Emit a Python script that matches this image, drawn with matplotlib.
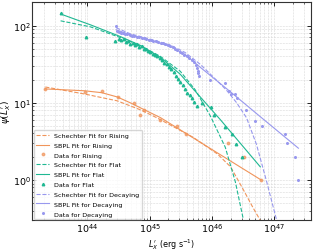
import numpy as np
import matplotlib
matplotlib.use('Agg')
from matplotlib import pyplot as plt

# colours per class
c_rise = '#f0945a'
c_flat = '#1fb892'
c_dec = '#9898ee'

# ---- data ----
rise_L = [2.1e43, 9.0e43, 1.7e44, 3.1e44, 5.7e44, 7.0e44, 8.0e44, 1.45e45, 2.7e45, 3.9e45, 1.8e46, 3.3e46, 6.2e46]
rise_psi = [15.1, 13.7, 14.1, 11.9, 10.0, 7.0, 8.0, 5.9, 5.0, 3.9, 3.0, 2.0, 1.0]

flat_L = [3.7e43, 9.6e43, 2.8e44,
          3.2e44, 3.5e44, 3.8e44, 4.1e44, 4.5e44, 4.9e44, 5.3e44, 5.8e44, 6.3e44, 6.8e44,
          7.4e44, 8.0e44, 8.7e44, 9.5e44, 1.03e45, 1.12e45, 1.22e45, 1.33e45, 1.45e45, 1.58e45,
          1.72e45, 1.87e45, 2.04e45, 2.22e45, 2.42e45, 2.64e45, 2.87e45, 3.13e45, 3.41e45, 3.72e45,
          4.05e45, 4.41e45, 4.80e45, 5.23e45, 5.70e45,
          6.9e45, 9.8e45, 1.1e46, 1.64e46, 2.14e46, 2.45e46, 3.0e46]
flat_psi = [145, 72, 62.5,
            67, 64, 66, 61, 63, 58, 60, 56, 57, 52,
            54, 50, 49, 47, 46, 43, 42, 40, 38, 36,
            33, 32, 29, 27.5, 25, 22, 20.5, 18.5, 17, 15,
            13.5, 12.5, 11.5, 10.3, 9.2,
            10.0, 8.8, 6.9, 4.9, 3.9, 2.95, 1.96]

dec_L = [2.9e44,
         3.0e44, 3.2e44, 3.4e44, 3.7e44, 4.0e44, 4.4e44, 4.8e44, 5.2e44, 5.7e44, 6.2e44,
         6.8e44, 7.4e44, 8.1e44, 8.8e44, 9.6e44, 1.05e45, 1.15e45, 1.25e45, 1.37e45, 1.50e45,
         1.64e45, 1.79e45, 1.95e45, 2.13e45, 2.33e45, 2.54e45, 2.78e45, 3.03e45, 3.31e45, 3.62e45,
         3.95e45, 4.32e45, 4.72e45, 5.15e45, 5.50e45, 5.75e45, 5.90e45, 6.00e45, 6.10e45,
         9.4e45, 1.64e46, 1.86e46, 2.0e46, 2.37e46, 2.5e46, 3.6e46, 5.0e46, 6.3e46,
         1.5e47, 1.6e47, 2.2e47, 2.46e47]
dec_psi = [100,
           85, 83, 81, 80, 78, 77, 76, 74, 73, 72,
           70, 69.5, 68, 67, 65, 64, 63, 62.5, 61, 60,
           58.5, 57, 55.6, 54, 52, 50, 48, 46, 44, 42,
           40, 38, 36, 34, 31, 28, 26, 24, 22,
           19.9, 18.0, 14.1, 13.0, 12.8, 11.6, 8.0, 5.8, 5.0,
           3.9, 3.0, 2.0, 1.0]

# ---- fitted curves, sampled from the figure ----
rise_sch_L = [2.1e43, 8.9e43, 3.0e44, 7.1e44, 1.3e45, 5.0e45, 1.23e46, 2.0e46, 3.2e46, 4.5e46, 6.0e46]
rise_sch_psi = [16.0, 13.0, 10.6, 8.1, 6.4, 3.57, 2.17, 1.48, 0.75, 0.45, 0.30]
rise_sbpl_L = [2.1e43, 8.9e43, 1.7e44, 3.0e44, 5.0e44, 7.1e44, 1.5e45, 6.2e46]
rise_sbpl_psi = [15.1, 14.3, 13.5, 11.9, 9.9, 8.6, 6.4, 1.0]

flat_sch_L = [3.7e43, 1.12e44, 3.4e44, 7.1e44, 1.49e45, 3.1e45, 5.4e45, 9.4e45, 1.64e46, 2.38e46, 3.2e46]
flat_sch_psi = [115, 96, 69.7, 55, 39.8, 25.6, 14.7, 6.8, 2.66, 0.95, 0.31]
flat_sbpl_L = [3.7e43, 1.12e44, 3.4e44, 7.1e44, 1.49e45, 3.1e45, 6.5e45, 1.36e46, 6.0e46]
flat_sbpl_psi = [141, 102, 71.8, 55.1, 38.7, 23.4, 11.9, 6.07, 1.48]

dec_sch_L = [2.9e44, 4.9e44, 1.02e45, 2.15e45, 3.7e45, 6.5e45, 1.1e46, 1.7e46, 2.5e46, 3.6e46, 5.2e46, 7.6e46, 1.1e47]
dec_sch_psi = [93.5, 78, 66.7, 55.8, 44.8, 31.5, 20.8, 14.7, 10.0, 6.4, 2.9, 0.95, 0.30]
dec_sbpl_L = [2.9e44, 4.9e44, 1.02e45, 2.15e45, 3.7e45, 6.5e45, 2.0e46, 6.0e46, 2.46e47]
dec_sbpl_psi = [88, 76, 64.7, 53.5, 42.3, 28.8, 13.8, 6.6, 2.58]

fig = plt.figure(figsize=(3.14, 2.51), dpi=100)
ax = fig.add_axes([0.103, 0.118, 0.887, 0.869])

lw = 0.8
ms = 1.8
ax.plot(rise_sch_L, rise_sch_psi, '--', color=c_rise, lw=lw, label='Schechter Fit for Rising')
ax.plot(rise_sbpl_L, rise_sbpl_psi, '-', color=c_rise, lw=lw, label='SBPL Fit for Rising')
ax.plot(rise_L, rise_psi, 'o', color=c_rise, ms=ms, alpha=0.7, ls='none', label='Data for Rising')
ax.plot(flat_sch_L, flat_sch_psi, '--', color=c_flat, lw=lw, label='Schechter Fit for Flat')
ax.plot(flat_sbpl_L, flat_sbpl_psi, '-', color=c_flat, lw=lw, label='SBPL Fit for Flat')
ax.plot(flat_L, flat_psi, '^', color=c_flat, ms=ms, ls='none', label='Data for Flat')
ax.plot(dec_sch_L, dec_sch_psi, '--', color=c_dec, lw=lw, label='Schechter Fit for Decaying')
ax.plot(dec_sbpl_L, dec_sbpl_psi, '-', color=c_dec, lw=lw, label='SBPL Fit for Decaying')
ax.plot(dec_L, dec_psi, '.', color=c_dec, ms=ms + 0.6, ls='none', label='Data for Decaying')

ax.set_xscale('log')
ax.set_yscale('log')
ax.set_xlim(1.3e43, 3.9e47)
ax.set_ylim(0.30, 200)

ax.grid(True, which='both', ls='--', lw=0.4, color='0.85')
ax.tick_params(which='both', direction='in', top=True, right=True, labelsize=6.8, pad=1.0)
ax.tick_params(which='major', length=3, width=0.6)
ax.tick_params(which='minor', length=1.5, width=0.4)
for s in ax.spines.values():
    s.set_linewidth(0.8)
    s.set_color('0.2')

ax.set_xlabel(r"$L_X^{\prime}$ (erg s$^{-1}$)", fontsize=5.8)
ax.set_ylabel(r"$\psi(L_X^{\prime})$", fontsize=6.5)
ax.xaxis.set_label_coords(0.5, -0.074)
ax.yaxis.set_label_coords(-0.068, 0.5)

ax.legend(loc='lower left', fontsize=4.6, frameon=True, framealpha=0.8,
          borderaxespad=0.2, handlelength=2.0, labelspacing=0.68)

fig.savefig('out.png', dpi=100)
